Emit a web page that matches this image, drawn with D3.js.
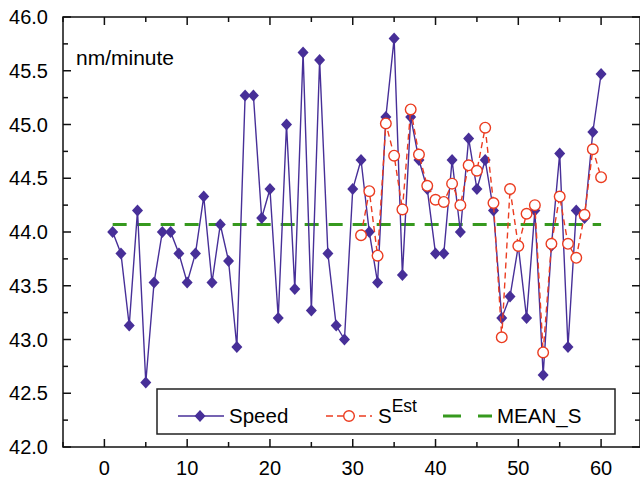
<!DOCTYPE html>
<html lang="en">
<head>
<meta charset="UTF-8" />
<title>speed estimate</title>
<script src="https://cdn.jsdelivr.net/npm/d3@7"></script>
<style>
  body { margin: 0; background: #fff; }
  text { font-family: "Liberation Sans", Arial, sans-serif; fill: #000; }
</style>
</head>
<body>
<svg id="chart" width="640" height="482"></svg>
<script>
// data
let speedX = d3.range(1, 61);
let speed = [44.00, 43.80, 43.13, 44.20, 42.60, 43.53, 44.00, 44.00, 43.80, 43.53,
             43.80, 44.33, 43.53, 44.07, 43.73, 42.93, 45.27, 45.27, 44.13, 44.40,
             43.20, 45.00, 43.47, 45.67, 43.27, 45.60, 43.80, 43.13, 43.00, 44.40,
             44.67, 44.00, 43.53, 45.07, 45.80, 43.60, 45.07, 44.67, 44.40, 43.80,
             43.80, 44.67, 44.00, 44.87, 44.40, 44.67, 44.20, 43.20, 43.40, 43.87,
             43.20, 44.20, 42.67, 43.87, 44.73, 42.93, 44.20, 44.13, 44.93, 45.47];
let estX = d3.range(31, 61);
let sEst = [43.97, 44.38, 43.78, 45.01, 44.71, 44.21, 45.14, 44.72, 44.43, 44.30,
            44.28, 44.45, 44.25, 44.62, 44.57, 44.97, 44.27, 43.02, 44.40, 43.87,
            44.17, 44.25, 42.88, 43.89, 44.33, 43.89, 43.76, 44.16, 44.77, 44.51];
let meanX = [1, 60];
let meanS = 44.07;
let xTicks = [0, 10, 20, 30, 40, 50, 60];
let yTicks = [42.0, 42.5, 43.0, 43.5, 44.0, 44.5, 45.0, 45.5, 46.0];

const purple = "#472f98", red = "#eb3c20", green = "#36991e";

const svg = d3.select("#chart");
const mLeft = 63, mRight = 640, mTop = 17, mBottom = 447;

const x = d3.scaleLinear().domain([-5, 64.7]).range([mLeft, mRight]);
const y = d3.scaleLinear().domain([42, 46]).range([mBottom, mTop]);

// frame with inward ticks
const minorX = d3.range(-5, 65, 5);
const minorY = d3.range(42, 46.01, 0.25);
const isMajorY = v => Math.abs(v * 2 - Math.round(v * 2)) < 1e-6;

const frame = svg.append("g").attr("stroke", "#111").attr("stroke-width", 1.5);
frame.append("rect").attr("x", mLeft).attr("y", mTop)
  .attr("width", mRight - mLeft).attr("height", mBottom - mTop).attr("fill", "none");

minorX.forEach(v => {
  let len = v % 10 === 0 ? 8 : 5;
  frame.append("line").attr("x1", x(v)).attr("x2", x(v)).attr("y1", mBottom).attr("y2", mBottom - len);
  frame.append("line").attr("x1", x(v)).attr("x2", x(v)).attr("y1", mTop).attr("y2", mTop + len);
});
minorY.forEach(v => {
  let len = isMajorY(v) ? 8 : 5;
  frame.append("line").attr("x1", mLeft).attr("x2", mLeft + len).attr("y1", y(v)).attr("y2", y(v));
  frame.append("line").attr("x1", mRight).attr("x2", mRight - len).attr("y1", y(v)).attr("y2", y(v));
});

// tick labels
svg.append("g").selectAll("text").data(xTicks).join("text")
  .attr("x", d => x(d)).attr("y", 475)
  .attr("text-anchor", "middle").attr("font-size", 20)
  .text(d => d);
svg.append("g").selectAll("text").data(yTicks).join("text")
  .attr("x", 48).attr("y", d => y(d)).attr("dy", "0.36em")
  .attr("text-anchor", "end").attr("font-size", 20)
  .text(d => d.toFixed(1));

svg.append("text").attr("x", 76).attr("y", 65).attr("font-size", 21).text("nm/minute");

// mean line
svg.append("line")
  .attr("x1", x(meanX[0])).attr("x2", x(meanX[1]))
  .attr("y1", y(meanS)).attr("y2", y(meanS))
  .attr("stroke", green).attr("stroke-width", 3).attr("stroke-dasharray", "14,10");

// speed series
const diamond = "M0,-6L5.5,0L0,6L-5.5,0Z";
const speedPts = speedX.map((d, i) => [d, speed[i]]);
svg.append("path").datum(speedPts)
  .attr("d", d3.line().x(d => x(d[0])).y(d => y(d[1])))
  .attr("fill", "none").attr("stroke", purple).attr("stroke-width", 1.4);
svg.append("g").selectAll("path").data(speedPts).join("path")
  .attr("d", diamond)
  .attr("transform", d => `translate(${x(d[0])},${y(d[1])})`)
  .attr("fill", purple);

// estimate series
const estPts = estX.map((d, i) => [d, sEst[i]]);
svg.append("path").datum(estPts)
  .attr("d", d3.line().x(d => x(d[0])).y(d => y(d[1])))
  .attr("fill", "none").attr("stroke", red).attr("stroke-width", 1.4)
  .attr("stroke-dasharray", "6,4");
svg.append("g").selectAll("circle").data(estPts).join("circle")
  .attr("cx", d => x(d[0])).attr("cy", d => y(d[1])).attr("r", 5.3)
  .attr("fill", "#fff").attr("stroke", red).attr("stroke-width", 1.4);

// legend
const lg = svg.append("g");
lg.append("rect").attr("x", 157).attr("y", 389).attr("width", 458).attr("height", 45)
  .attr("fill", "#fff").attr("stroke", "#222").attr("stroke-width", 1.5);
const ly = 416;
lg.append("line").attr("x1", 178).attr("x2", 224).attr("y1", ly).attr("y2", ly)
  .attr("stroke", purple).attr("stroke-width", 1.4);
lg.append("path").attr("d", diamond).attr("transform", `translate(200,${ly})`).attr("fill", purple);
lg.append("text").attr("x", 229).attr("y", 423).attr("font-size", 20.5).text("Speed");

lg.append("line").attr("x1", 326).attr("x2", 372).attr("y1", ly).attr("y2", ly)
  .attr("stroke", red).attr("stroke-width", 1.4).attr("stroke-dasharray", "7,4");
lg.append("circle").attr("cx", 349).attr("cy", ly).attr("r", 5.3)
  .attr("fill", "#fff").attr("stroke", red).attr("stroke-width", 1.4);
const st = lg.append("text").attr("x", 378).attr("y", 423).attr("font-size", 20.5);
st.append("tspan").text("S");
st.append("tspan").attr("dy", -11).attr("font-size", 17.5).text("Est");

lg.append("line").attr("x1", 443).attr("x2", 492).attr("y1", ly).attr("y2", ly)
  .attr("stroke", green).attr("stroke-width", 3).attr("stroke-dasharray", "18,17");
lg.append("text").attr("x", 497).attr("y", 423).attr("font-size", 20.5).text("MEAN_S");
</script>
</body>
</html>
